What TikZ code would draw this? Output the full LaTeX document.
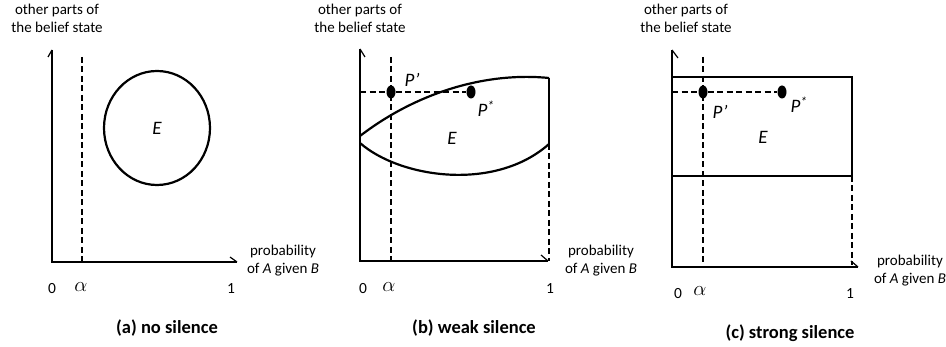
\documentclass[tikz,border=0pt]{standalone}
\usepackage{fontspec}
\setmainfont{Carlito}
\usetikzlibrary{shapes.geometric}
\begin{document}
\begin{tikzpicture}[x=1pt,y=-1pt,
  axisline/.style={line width=1.6pt},
  barbline/.style={line width=1.2pt},
  outline/.style={line width=2.2pt},
  guide/.style={line width=1.8pt, dash pattern=on 6pt off 3.5pt},
  lbl/.style={font=\fontsize{15}{18}\selectfont, align=center, inner sep=0pt},
  ticklbl/.style={font=\fontsize{15.5}{18}\selectfont, inner sep=0pt},
  alphalbl/.style={font=\fontsize{20}{20}\selectfont, inner sep=0pt},
  ital/.style={font=\fontsize{19}{20}\selectfont\itshape, inner sep=0pt},
  caplbl/.style={font=\fontsize{18.5}{20}\selectfont\bfseries, inner sep=0pt},
  dotnode/.style={ellipse, fill=black, minimum width=9pt, minimum height=13pt, inner sep=0pt}]
\useasboundingbox (0,0) rectangle (946,347);

% ---------- (a) no silence ----------
\coordinate (aO) at (52,262);
\coordinate (aY) at (52,50);
\coordinate (aX) at (237,262);
\draw[axisline] (aY) -- (aO) -- (aX);
\draw[barbline] (aY) -- (48,57);
\draw[barbline] (aX) -- (230,257);
\coordinate (aAt) at (82,57);
\coordinate (aAb) at (82,262);
\draw[guide] (aAt) -- (aAb);
\node[ellipse, draw, line width=2.2pt, minimum width=106pt, minimum height=114pt, inner sep=0pt] (aE) at (157,128) {};
\node[ital] (aEl) at (157,128) {E};
\node[ticklbl] (a0) at (52,289) {0};
\node[alphalbl] (aal) at (81,287) {$\alpha$};
\node[ticklbl] (a1) at (231,289) {1};
\node[lbl] (ay) at (57,18) {other parts of\\the belief state};
\node[lbl] (ax) at (283,261) {probability\\of \textit{A} given \textit{B}};
\node[caplbl] (acap) at (167,328) {(a) no silence};

% ---------- (b) weak silence ----------
\coordinate (bO) at (360,261);
\coordinate (bY) at (360,49);
\coordinate (bX) at (548,261);
\draw[axisline] (bY) -- (bO) -- (bX);
\draw[barbline] (bY) -- (365,57);
\draw[barbline] (bX) -- (541,255);
\coordinate (bAt) at (391,57);
\coordinate (bAb) at (391,261);
\draw[guide] (bAt) -- (bAb);
\coordinate (bL1) at (360,136);
\coordinate (bL2) at (360,143);
\coordinate (bR1) at (549,78);
\coordinate (bR2) at (549,144);
\coordinate (bRb) at (549,261);
\draw[outline] (bL1) .. controls (420,90) and (490,72) .. (bR1);
\draw[outline] (bL2) .. controls (400,178) and (495,192) .. (bR2);
\draw[outline] (bR1) -- (bR2);
\draw[guide] (bR2) -- (bRb);
\coordinate (bH) at (360,92);
\node[dotnode] (bP1) at (391,92) {};
\node[dotnode] (bP2) at (471,92) {};
\draw[guide] (bH) -- (bP1) -- (bP2);
\node[ital] (bP1l) at (412,80) {P’};
\node[ital] (bP2l) at (486,109) {P\textsuperscript{*}};
\node[ital] (bEl) at (452,138) {E};
\node[ticklbl] (b0) at (363,289) {0};
\node[alphalbl] (bal) at (389,287) {$\alpha$};
\node[ticklbl] (b1) at (550,289) {1};
\node[lbl] (by) at (360,18) {other parts of\\the belief state};
\node[lbl] (bx) at (601,261) {probability\\of \textit{A} given \textit{B}};
\node[caplbl] (bcap) at (474,328) {(b) weak silence};

% ---------- (c) strong silence ----------
\coordinate (cO) at (672,267);
\coordinate (cY) at (672,50);
\coordinate (cX) at (858,267);
\draw[axisline] (cY) -- (cO) -- (cX);
\draw[barbline] (cY) -- (678,58);
\draw[barbline] (cX) -- (851,261);
\coordinate (cAt) at (703,57);
\coordinate (cAb) at (703,262);
\draw[guide] (cAt) -- (cAb);
\coordinate (cTL) at (672,77);
\coordinate (cBR) at (852,176);
\draw[outline] (cTL) rectangle (cBR);
\coordinate (cRb) at (852,265);
\draw[guide] (cBR) -- (cRb);
\coordinate (cH) at (672,92);
\node[dotnode] (cP1) at (703,92) {};
\node[dotnode] (cP2) at (782,92) {};
\draw[guide] (cH) -- (cP1) -- (cP2);
\node[ital] (cP1l) at (720,112) {P’};
\node[ital] (cP2l) at (799,105) {P\textsuperscript{*}};
\node[ital] (cEl) at (763,137) {E};
\node[ticklbl] (c0) at (678,294) {0};
\node[alphalbl] (cal) at (700,291) {$\alpha$};
\node[ticklbl] (c1) at (850,294) {1};
\node[lbl] (cy) at (686,18) {other parts of\\the belief state};
\node[lbl] (cx) at (910,271) {probability\\of \textit{A} given \textit{B}};
\node[caplbl] (ccap) at (790,333) {(c) strong silence};
\end{tikzpicture}
\end{document}
